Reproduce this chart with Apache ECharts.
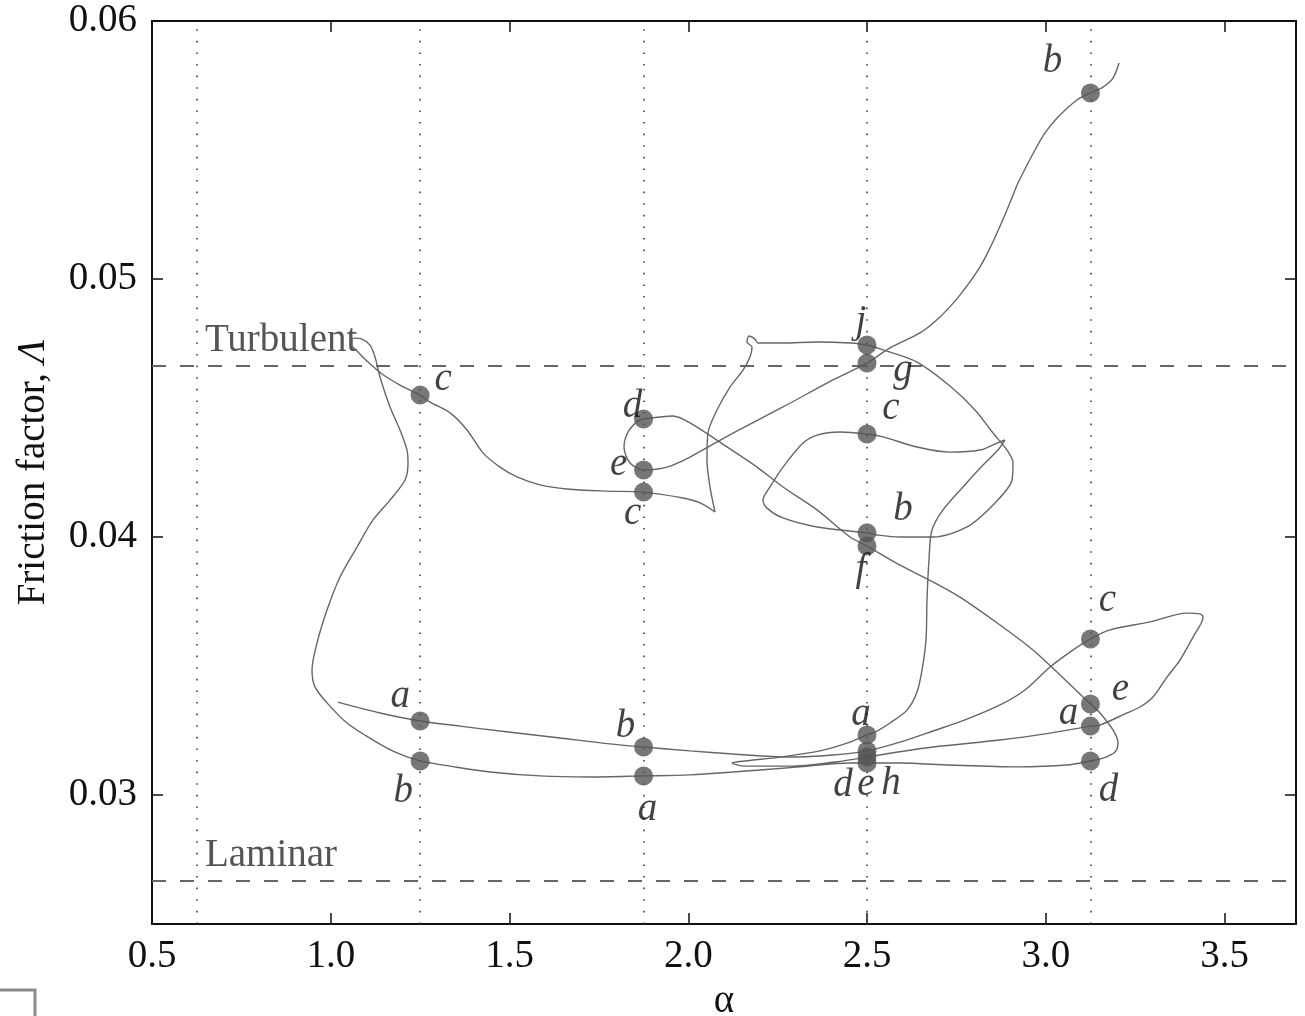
<!DOCTYPE html>
<html><head><meta charset="utf-8">
<script src="https://cdn.jsdelivr.net/npm/echarts@6/dist/echarts.min.js"></script>
<style>html,body{margin:0;padding:0;background:#fff}#c{width:1305px;height:1016px}</style>
</head><body><div id="c"></div>
<script>
// ---------- data ----------
const xTicks = [0.5, 1.0, 1.5, 2.0, 2.5, 3.0, 3.5];
const yTicks = [0.03, 0.04, 0.05, 0.06];
const sampleAlpha = [0.625, 1.25, 1.875, 2.5, 3.125];
const regimeNames = ['Turbulent', 'Laminar'];
const regimeLambda = [0.04665, 0.02667];

const trajTop = [
 [3.2049,0.05837],[3.1881,0.05779],[3.1601,0.05744],[3.125,0.05721],[3.0874,0.05694],[3.0343,0.05628],
 [2.9979,0.05566],[2.9699,0.05500],[2.9448,0.05434],[2.9224,0.05372],[2.9028,0.05306],[2.8832,0.05240],
 [2.8636,0.05178],[2.8413,0.05112],[2.8161,0.05047],[2.7853,0.04984],[2.7489,0.04919],[2.7042,0.04853],
 [2.6482,0.04791],[2.5643,0.04733],[2.5,0.04674],
 [2.4049,0.04609],[2.2650,0.04504],[2.1252,0.04403],[2.0049,0.04310],[1.9406,0.04271],[1.875,0.04260],
 [1.8371,0.04287],[1.8203,0.04349],[1.8315,0.04407],[1.8594,0.04450],[1.875,0.04457],[1.9573,0.04469],
 [2.0049,0.04442],[2.1084,0.04349],[2.1923,0.04271],[2.2650,0.04194],[2.3601,0.04105],[2.4524,0.04000],
 [2.5,0.03965],[2.5923,0.03891],[2.6846,0.03826],[2.7601,0.03767],[2.8720,0.03659],[2.9643,0.03562],
 [3.0399,0.03465],[3.1042,0.03380],[3.125,0.03353],[3.1517,0.03318],[3.1881,0.03252],[3.2021,0.03202],
 [3.1937,0.03167],[3.1601,0.03143],[3.125,0.03132],[3.0594,0.03116],[2.9196,0.03109],[2.7322,0.03116],
 [2.5923,0.03124],[2.5,0.03124]
];
const trajMid = [
 [2.5,0.03124],[2.4524,0.03124],[2.3126,0.03109],[2.1252,0.03089],[2.0049,0.03078],[1.875,0.03074],
 [1.7252,0.03070],[1.5853,0.03074],[1.4455,0.03089],[1.3336,0.03112],[1.25,0.03132],[1.1853,0.03163],
 [1.1182,0.03213],[1.0455,0.03279],[0.9895,0.03357],[0.9559,0.03419],[0.9476,0.03484],[0.9615,0.03589],
 [0.9895,0.03717],[1.0259,0.03845],[1.0734,0.03961],[1.1182,0.04066],[1.1657,0.04143],[1.2077,0.04221],
 [1.2161,0.04287],[1.2133,0.04337],[1.1937,0.04415],[1.1657,0.04504],[1.1378,0.04620],[1.1238,0.04698],
 [1.1098,0.04744],[1.0874,0.04767],[1.0622,0.04771],[1.0594,0.04744],[1.0762,0.04717],[1.1042,0.04678],
 [1.1434,0.04632],[1.1937,0.04589],[1.25,0.04550],[1.2776,0.04523],[1.3336,0.04481],[1.3811,0.04415],
 [1.4259,0.04326],[1.4734,0.04271],[1.5210,0.04233],[1.5853,0.04202],[1.6608,0.04186],[1.7671,0.04178],
 [1.875,0.04174],[1.9853,0.04151],[2.0329,0.04132],[2.0748,0.04097],[2.0608,0.04194],[2.0524,0.04298],
 [2.0552,0.04403],[2.0804,0.04492],[2.1168,0.04581],[2.1531,0.04647],[2.1727,0.04698],[2.1783,0.04736],
 [2.1643,0.04756],[2.1699,0.04779],[2.1867,0.04767],[2.1951,0.04752],[2.2650,0.04752],[2.3601,0.04756],
 [2.4524,0.04752],[2.5,0.04744],[2.5448,0.04725],[2.6399,0.04678],[2.7322,0.04585],[2.8021,0.04492],
 [2.8524,0.04403],[2.8916,0.04337],[2.9084,0.04287],[2.9056,0.04221],[2.8580,0.04132],[2.7797,0.04039],
 [2.6846,0.04000],[2.5923,0.04000],[2.5280,0.04008],[2.5,0.04016],[2.3601,0.04039],[2.2650,0.04074],
 [2.2203,0.04112],[2.2091,0.04143],[2.2287,0.04194],[2.2650,0.04271],[2.3210,0.04364],[2.3601,0.04395],
 [2.4245,0.04407],[2.5,0.04399],[2.5448,0.04388],[2.6399,0.04349],[2.7322,0.04329],[2.8161,0.04337],
 [2.8636,0.04364],[2.8860,0.04376],[2.8664,0.04337],[2.8245,0.04279],[2.7685,0.04194],[2.7126,0.04105],
 [2.6818,0.04027],[2.6734,0.03911],[2.6678,0.03756],[2.6650,0.03601],[2.6538,0.03484],[2.6399,0.03399],
 [2.6119,0.03329],[2.5643,0.03279],[2.5280,0.03248],[2.5,0.03233],[2.4524,0.03205],[2.3685,0.03171],
 [2.2566,0.03147],[2.1587,0.03132],[2.1224,0.03124],[2.1587,0.03112],[2.2846,0.03112],[2.4105,0.03128],
 [2.5,0.03147]
];
const trajRight = [
 [2.5,0.03147],[2.6846,0.03186],[2.8720,0.03213],[3.0119,0.03240],[3.125,0.03267],[3.1517,0.03271],
 [3.2273,0.03318],[3.2636,0.03341],[3.3000,0.03380],[3.3392,0.03457],[3.3755,0.03523],[3.4119,0.03612],
 [3.4399,0.03690],[3.4315,0.03702],[3.3951,0.03705],[3.2916,0.03671],[3.1797,0.03640],[3.125,0.03605],
 [3.0678,0.03554],[3.0119,0.03496],[2.9420,0.03407],[2.8720,0.03349],[2.7741,0.03291],[2.6846,0.03248],
 [2.5923,0.03205],[2.5,0.03171],[2.4049,0.03155],[2.2846,0.03147],[2.1252,0.03159],[2.0049,0.03171],
 [1.875,0.03186],[1.7811,0.03198],[1.6413,0.03221],[1.4734,0.03248],[1.3615,0.03267],[1.25,0.03287],
 [1.1378,0.03318],[1.0203,0.03360]
];

const dotAlpha  = [1.25,1.25,1.25, 1.875,1.875,1.875,1.875,1.875, 2.5,2.5,2.5,2.5,2.5,2.5,2.5,2.5,2.5, 3.125,3.125,3.125,3.125,3.125];
const dotLambda = [0.04550,0.03287,0.03132, 0.04457,0.04260,0.04174,0.03186,0.03074,
                   0.04744,0.04674,0.04399,0.04016,0.03965,0.03233,0.03171,0.03147,0.03124,
                   0.05721,0.03605,0.03353,0.03267,0.03132];
const dotLetter = ['c','a','b', 'd','e','c','b','a', 'j','g','c','b','f','a','d','e','h', 'b','c','e','a','d'];

// ---------- layout / style ----------
const dotLabelOffset = [[23,-15],[-20,-24],[-17,31], [-11,-12],[-25,-5],[-11,22],[-18,-20],[4,34],
  [-6,-23],[36,8],[24,-25],[36,-23],[-6,24],[-6,-20],[-24,35],[-1,28],[24,21],
  [-38,-31],[17,-38],[30,-14],[-22,-12],[18,30]];
const regimeLabelAlpha = 0.648;
const FONT = 'Liberation Serif';
const FS = 39;
const curveStyle = {color:'#666', width:1.4};

const chart = echarts.init(document.getElementById('c'), null, {renderer:'canvas'});

const axisLineStyle = {color:'#111', width:2};
const tickStyle = {color:'#111', width:1.5};

function trajSeries(d){
  return {type:'line', data:d, smooth:0.3, showSymbol:false, symbol:'none', lineStyle:curveStyle,
          silent:true, z:3, animation:false};
}

const option = {
  animation:false,
  backgroundColor:'#fff',
  grid:{left:152, right:9, top:21, bottom:92, containLabel:false, outerBoundsMode:'none'},
  xAxis:[
    {type:'value', min:0.5, max:3.7, position:'bottom',
     axisLine:{show:true, onZero:false, lineStyle:axisLineStyle},
     axisTick:{show:true, inside:true, length:11, customValues:xTicks, lineStyle:tickStyle},
     axisLabel:{customValues:xTicks, formatter:v=>v.toFixed(1), margin:13, fontFamily:FONT, fontSize:FS, color:'#111'},
     splitLine:{show:false},
     name:'α', nameLocation:'middle', nameGap:58,
     nameTextStyle:{fontFamily:FONT, fontSize:FS, color:'#111'}},
    {type:'value', min:0.5, max:3.7, position:'top',
     axisLine:{show:true, onZero:false, lineStyle:axisLineStyle},
     axisTick:{show:true, inside:true, length:11, customValues:xTicks, lineStyle:tickStyle},
     axisLabel:{show:false}, splitLine:{show:false}}
  ],
  yAxis:[
    {type:'value', min:0.025, max:0.06, position:'left',
     axisLine:{show:true, onZero:false, lineStyle:axisLineStyle},
     axisTick:{show:true, inside:true, length:11, customValues:yTicks, lineStyle:tickStyle},
     axisLabel:{customValues:yTicks, formatter:v=>v.toFixed(2), margin:15, fontFamily:FONT, fontSize:FS, color:'#111'},
     splitLine:{show:false},
     name:'Friction factor, {it|Λ}', nameLocation:'middle', nameGap:99,
     nameTextStyle:{fontFamily:FONT, fontSize:FS, color:'#111',
       rich:{it:{fontFamily:FONT, fontSize:FS, fontStyle:'italic', color:'#111'}}}},
    {type:'value', min:0.025, max:0.06, position:'right',
     axisLine:{show:true, onZero:false, lineStyle:axisLineStyle},
     axisTick:{show:true, inside:true, length:11, customValues:yTicks, lineStyle:tickStyle},
     axisLabel:{show:false}, splitLine:{show:false}}
  ],
  series:[
    {type:'line', data:[], silent:true, z:1,
     markLine:{silent:true, precision:6, symbol:['none','none'], animation:false, label:{show:false},
       lineStyle:{color:'#333', width:1.5, type:[1.6,10]},
       data:sampleAlpha.map(a=>({xAxis:a}))}},
    {type:'line', data:[], silent:true, z:1,
     markLine:{silent:true, precision:6, symbol:['none','none'], animation:false, label:{show:false},
       lineStyle:{color:'#666', width:2, type:[14,14]},
       data:regimeLambda.map(v=>({yAxis:v}))}},
    {type:'scatter', silent:true, z:2, symbolSize:0,
     data:regimeNames.map((n,i)=>({name:n, value:[regimeLabelAlpha, regimeLambda[i]]})),
     label:{show:true, position:'right', distance:0, offset:[0,-25], formatter:'{b}',
            fontFamily:FONT, fontSize:FS, color:'#2a2a2a'}},
    trajSeries(trajTop),
    trajSeries(trajMid),
    trajSeries(trajRight),
    {type:'scatter', silent:true, z:5, symbol:'circle', symbolSize:19,
     itemStyle:{color:'#555'},
     data:dotAlpha.map((a,i)=>({name:dotLetter[i], value:[a, dotLambda[i]], label:{offset:dotLabelOffset[i]}})),
     label:{show:true, position:'inside', formatter:'{b}', fontFamily:FONT, fontSize:FS,
            fontStyle:'italic', color:'#111'}}
  ],
  graphic:[
    {type:'polyline', silent:true, shape:{points:[[0,990],[35,990],[35,1016]]},
     style:{stroke:'#8a8a8a', lineWidth:3, fill:null}}
  ]
};
chart.setOption(option);
</script>
</body></html>
